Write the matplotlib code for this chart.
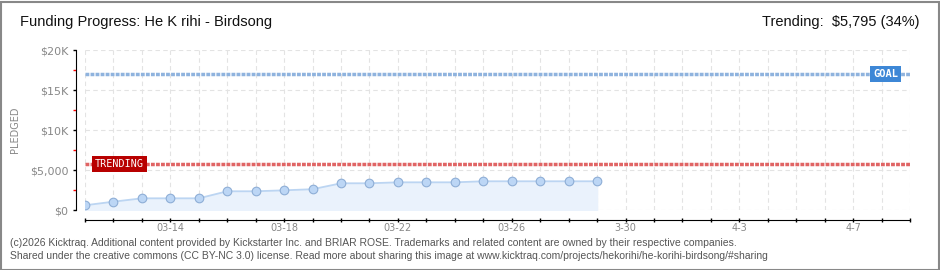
import numpy as np
import matplotlib.pyplot as plt
from matplotlib.patches import Rectangle

days = ['03-11', '03-12', '03-13', '03-14', '03-15', '03-16', '03-17', '03-18', '03-19', '03-20',
        '03-21', '03-22', '03-23', '03-24', '03-25', '03-26', '03-27', '03-28', '03-29', '03-30',
        '03-31', '04-01', '04-02', '04-03', '04-04', '04-05', '04-06', '04-07', '04-08', '04-09']
pledged = [590, 1040, 1460, 1460, 1460, 2340, 2340, 2460, 2600, 3340,
           3340, 3460, 3460, 3460, 3590, 3590, 3590, 3590, 3590]
goal = 17000
trending = 5795
tick_labels = {3: '03-14', 7: '03-18', 11: '03-22', 15: '03-26', 19: '3-30', 23: '4-3', 27: '4-7'}
y_ticks = [0, 5000, 10000, 15000, 20000]
y_labels = ['$0', '$5,000', '$10K', '$15K', '$20K']

font = 'Liberation Sans'
W, H = 940, 270
fig = plt.figure(figsize=(W / 100, H / 100), dpi=100)
ax = fig.add_axes([85 / W, (H - 210) / H, 825 / W, 160 / H])

x = np.arange(len(pledged))
ax.fill_between(x, pledged, 0, color='#eaf2fc', zorder=1)
ax.plot(x, pledged, color='#bcd5f2', lw=1.3, zorder=3)
ax.plot(x, pledged, 'o', ms=6.2, mfc='#bcd6f5', mec='#8eaed6', mew=0.8, zorder=4)

ax.axhline(goal, color='#8fb3de', lw=2.5, ls=(0, (1.1, 0.35)), zorder=2)
ax.axhline(trending, color='#e06464', lw=2.5, ls=(0, (1.1, 0.35)), zorder=2)

ax.text(len(days) - 2.3, goal, 'GOAL', color='white', fontsize=7.5, fontweight='bold',
        family='DejaVu Sans Mono', ha='left', va='center', zorder=5,
        bbox=dict(boxstyle='square,pad=0.3', fc='#3d87d6', ec='none'))
ax.text(0.35, trending, 'TRENDING', color='white', fontsize=7.3,
        family='DejaVu Sans Mono', ha='left', va='center', zorder=5,
        bbox=dict(boxstyle='square,pad=0.3', fc='#b80000', ec='none'))

ax.set_xlim(0, len(days) - 1)
ax.set_ylim(0, 20000)
ax.set_xticks(range(len(days)))
ax.set_xticklabels([tick_labels.get(i, '') for i in range(len(days))])
ax.set_yticks(y_ticks)
ax.set_yticklabels(y_labels)
ax.set_yticks([2500, 7500, 12500, 17500], minor=True)

ax.grid(True, color='#e3e3e3', ls=(0, (4, 3)), lw=0.8, zorder=0)
ax.set_axisbelow(True)
for s in ['top', 'right']:
    ax.spines[s].set_visible(False)
ax.spines['left'].set_position(('outward', 6.5))
ax.spines['bottom'].set_position(('outward', 7.2))
ax.tick_params(axis='x', direction='inout', length=3.5, width=1, labelsize=7,
               labelcolor='#888888', pad=0.5)
ax.tick_params(axis='y', which='major', direction='out', length=2.5, width=1,
               labelsize=8, labelcolor='#888888', pad=3)
ax.tick_params(axis='y', which='minor', direction='out', length=2.5, width=1, color='red')
ax.set_ylabel('PLEDGED', fontsize=7, color='#888888')
ax.yaxis.set_label_coords(-65 / 825, 0.5)

fig.text(20 / W, 1 - 22 / H, 'Funding Progress: He K rihi - Birdsong', fontsize=10.5,
         family=font, va='center', ha='left', color='#111111')
fig.text(920 / W, 1 - 22 / H, 'Trending:  $5,795 (34%)', fontsize=10.5,
         family=font, va='center', ha='right', color='#111111')
fig.text(10 / W, 1 - 243 / H,
         '(c)2026 Kicktraq. Additional content provided by Kickstarter Inc. and BRIAR ROSE. '
         'Trademarks and related content are owned by their respective companies.',
         fontsize=7.5, family=font, color='#555555', va='center')
fig.text(10 / W, 1 - 256 / H,
         'Shared under the creative commons (CC BY-NC 3.0) license. Read more about sharing this '
         'image at www.kicktraq.com/projects/hekorihi/he-korihi-birdsong/#sharing',
         fontsize=7.5, family=font, color='#555555', va='center')

fig.patches.append(Rectangle((0.5 / W, 0.5 / H), 1 - 2 / W, 1 - 2 / H, transform=fig.transFigure,
                             fill=False, ec='#888888', lw=1.5))

fig.savefig('out.png', dpi=100)
